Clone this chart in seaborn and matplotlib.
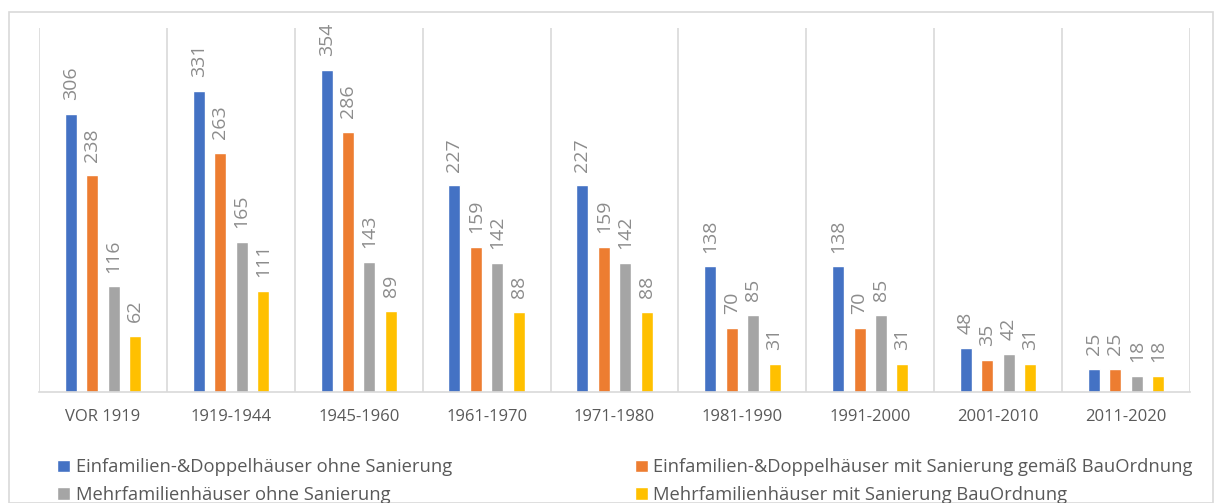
import matplotlib
matplotlib.use("Agg")
import matplotlib.pyplot as plt
import seaborn as sns
import pandas as pd
from matplotlib.patches import Rectangle

perioden = ["VOR 1919", "1919-1944", "1945-1960", "1961-1970", "1971-1980",
            "1981-1990", "1991-2000", "2001-2010", "2011-2020"]
serien = ["Einfamilien-&Doppelhäuser ohne Sanierung",
          "Einfamilien-&Doppelhäuser mit Sanierung gemäß BauOrdnung",
          "Mehrfamilienhäuser ohne Sanierung",
          "Mehrfamilienhäuser mit Sanierung BauOrdnung"]
efh_ohne = [306, 331, 354, 227, 227, 138, 138, 48, 25]
efh_mit = [238, 263, 286, 159, 159, 70, 70, 35, 25]
mfh_ohne = [116, 165, 143, 142, 142, 85, 85, 42, 18]
mfh_mit = [62, 111, 89, 88, 88, 31, 31, 31, 18]
farben = ["#4472C4", "#ED7D31", "#A5A5A5", "#FFC000"]

rows = []
for s, werte in zip(serien, [efh_ohne, efh_mit, mfh_ohne, mfh_mit]):
    for p, v in zip(perioden, werte):
        rows.append({"Periode": p, "Serie": s, "Wert": v})
df = pd.DataFrame(rows)

sns.set_style("white")
plt.rcParams["font.family"] = ["Open Sans", "DejaVu Sans"]

fig = plt.figure(figsize=(12.16, 5.03), dpi=100)
ax = fig.add_axes([39 / 1216, 1 - 392 / 503, (1190 - 39) / 1216, (392 - 28) / 503])

sns.barplot(data=df, x="Periode", y="Wert", hue="Serie", order=perioden,
            hue_order=serien, palette=farben, width=0.67, gap=0.44,
            saturation=1, ax=ax, legend=True)

# Datenbeschriftungen senkrecht über den Balken
for c in ax.containers:
    ax.bar_label(c, rotation=90, padding=10, fontsize=14, color="#8c8c8c")

ax.set_ylim(0, 400)
ax.set_xlim(-0.5, len(perioden) - 0.5)
ax.set_yticks([])
ax.set_xlabel("")
ax.set_ylabel("")
for i in range(len(perioden) + 1):
    ax.axvline(i - 0.5, color="#d9d9d9", lw=1.2, zorder=0)
for sp in ["top", "right", "left"]:
    ax.spines[sp].set_visible(False)
ax.spines["bottom"].set_color("#d9d9d9")
ax.spines["bottom"].set_linewidth(1.2)
ax.tick_params(axis="x", length=0, pad=12, labelsize=12, labelcolor="#595959")

handles, labels = ax.get_legend_handles_labels()
ax.legend_.remove()
order = [0, 2, 1, 3]
fig.legend([handles[i] for i in order], [labels[i] for i in order],
           ncol=2, loc="upper left", bbox_to_anchor=(50 / 1216, 1 - 451 / 503),
           frameon=False, fontsize=13.2, labelcolor="#595959",
           handlelength=0.7, handleheight=0.7, handletextpad=0.3,
           columnspacing=10.0, labelspacing=0.52, borderaxespad=0)

fig.patches.append(Rectangle((9 / 1216, 0), 1204 / 1216, 1 - 12 / 503,
                             transform=fig.transFigure, fill=False,
                             edgecolor="#d9d9d9", lw=1.2))

fig.savefig("out.png", dpi=100)
